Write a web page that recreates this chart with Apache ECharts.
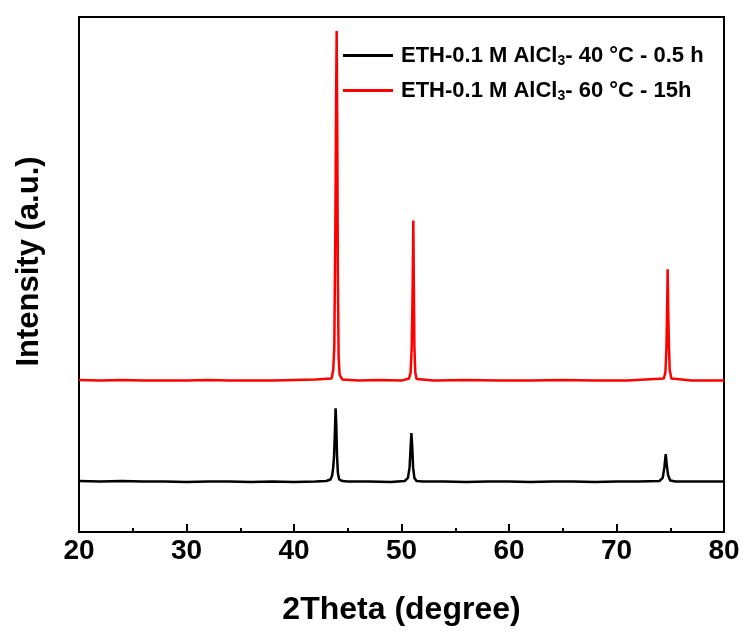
<!DOCTYPE html>
<html>
<head>
<meta charset="utf-8">
<script src="https://cdn.jsdelivr.net/npm/echarts@6/dist/echarts.min.js"></script>
<style>
html,body{margin:0;padding:0;background:#fff;}
#chart{width:744px;height:631px;}
</style>
</head>
<body>
<div id="chart"></div>
<script>
// Series names
const seriesNames = ['ETH-0.1 M AlCl3- 40 °C - 0.5 h', 'ETH-0.1 M AlCl3- 60 °C - 15h'];

// Black pattern (40 °C - 0.5 h)
const blackX = [20, 22, 24, 26, 28, 30, 32, 34, 36, 38, 40, 42, 43.0, 43.4, 43.55, 43.65, 43.72, 43.8, 43.87, 43.93, 44.0, 44.08, 44.2, 44.5, 45, 47, 49, 50.3, 50.6, 50.75, 50.85, 50.92, 51.0, 51.08, 51.2, 51.4, 52, 54, 56, 58, 60, 62, 64, 66, 68, 70, 72, 74.0, 74.3, 74.45, 74.58, 74.68, 74.8, 75.0, 75.5, 77, 80];
const blackY = [9.9, 9.8, 9.9, 9.8, 9.8, 9.7, 9.8, 9.8, 9.7, 9.8, 9.7, 9.8, 9.9, 10.2, 11.0, 12.6, 14.5, 19.0, 24.0, 21.0, 15.0, 11.5, 10.2, 9.9, 9.8, 9.8, 9.7, 9.9, 10.5, 12.5, 16.5, 19.2, 16.5, 12.5, 10.5, 9.9, 9.8, 9.8, 9.7, 9.8, 9.8, 9.7, 9.8, 9.8, 9.7, 9.8, 9.8, 9.9, 10.5, 12.5, 15.1, 13.0, 11.0, 10.0, 9.8, 9.8, 9.8];

// Red pattern (60 °C - 15h)
const redX = [20, 22, 24, 26, 28, 30, 32, 34, 36, 38, 40, 42, 43.5, 43.65, 43.75, 43.85, 43.92, 43.97, 44.02, 44.08, 44.15, 44.25, 44.5, 46, 48, 50, 50.7, 50.85, 50.95, 51.02, 51.06, 51.1, 51.15, 51.2, 51.28, 51.4, 53, 56, 59, 62, 65, 68, 71, 74.4, 74.55, 74.65, 74.72, 74.76, 74.82, 74.88, 74.95, 75.1, 77, 80];
const redY = [29.5, 29.4, 29.5, 29.4, 29.4, 29.4, 29.5, 29.4, 29.4, 29.4, 29.5, 29.6, 29.8, 31.5, 36.0, 60.0, 85.0, 97.3, 80.0, 50.0, 34.0, 30.5, 29.6, 29.4, 29.5, 29.4, 29.8, 31.0, 36.0, 45.0, 52.0, 60.5, 48.0, 36.0, 31.0, 29.7, 29.4, 29.5, 29.4, 29.4, 29.5, 29.4, 29.4, 29.8, 31.0, 36.0, 45.0, 51.0, 42.0, 36.0, 31.5, 29.8, 29.4, 29.4];

// Axis ticks
const xTicks = [20, 30, 40, 50, 60, 70, 80];

const zip = (xs, ys) => xs.map((x, i) => [x, ys[i]]);
const FONT = '"Liberation Sans", Arial, sans-serif';

const chart = echarts.init(document.getElementById('chart'), null, {renderer: 'canvas'});
chart.setOption({
  animation: false,
  backgroundColor: '#fff',
  grid: {left: 79, right: 20, top: 17, bottom: 98, show: true, borderColor: '#000', borderWidth: 2, backgroundColor: 'transparent'},
  legend: {
    orient: 'vertical',
    left: 338,
    top: 38,
    itemWidth: 50,
    itemHeight: 3,
    itemGap: 10,
    icon: 'rect',
    data: seriesNames,
    formatter: function (name) {
      const parts = name.split('AlCl3');
      return '{a|' + parts[0] + 'AlCl}{s|3}{a|' + parts[1] + '}';
    },
    textStyle: {
      padding: [0, 0, 0, 3],
      rich: {
        a: {fontFamily: FONT, fontWeight: 'bold', fontSize: 22, color: '#000', lineHeight: 26},
        s: {fontFamily: FONT, fontWeight: 'bold', fontSize: 14, color: '#000', lineHeight: 26, padding: [11, 0, 0, 0]}
      }
    }
  },
  xAxis: {
    type: 'value',
    min: xTicks[0],
    max: xTicks[xTicks.length - 1],
    interval: 10,
    name: '2Theta (degree)',
    nameLocation: 'middle',
    nameGap: 62,
    nameTextStyle: {fontFamily: FONT, fontWeight: 'bold', fontSize: 32, color: '#000'},
    axisLine: {show: true, onZero: false, lineStyle: {color: '#000', width: 2}},
    axisTick: {show: true, inside: true, length: 8, lineStyle: {color: '#000', width: 2}},
    minorTick: {show: true, splitNumber: 2, length: 4, lineStyle: {color: '#000', width: 2}},
    axisLabel: {fontFamily: FONT, fontWeight: 'bold', fontSize: 28, color: '#000', margin: 5},
    splitLine: {show: false}
  },
  yAxis: {
    type: 'value',
    min: 0,
    max: 100,
    name: 'Intensity (a.u.)',
    nameLocation: 'middle',
    nameGap: 34,
    nameRotate: 90,
    nameTextStyle: {fontFamily: FONT, fontWeight: 'bold', fontSize: 31, color: '#000', padding: [0, 0, 0, 26]},
    axisLine: {show: true, lineStyle: {color: '#000', width: 2}},
    axisTick: {show: false},
    axisLabel: {show: false},
    splitLine: {show: false}
  },
  series: [
    {name: seriesNames[0], type: 'line', data: zip(blackX, blackY), symbol: 'none', color: '#000', lineStyle: {color: '#000', width: 2.5}},
    {name: seriesNames[1], type: 'line', data: zip(redX, redY), symbol: 'none', color: '#ff0000', lineStyle: {color: '#ff0000', width: 2.5}}
  ]
});
</script>
</body>
</html>
